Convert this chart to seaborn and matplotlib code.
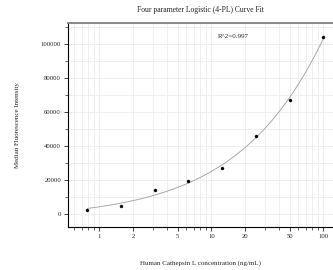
import numpy as np
import pandas as pd
import seaborn as sns
import matplotlib.pyplot as plt
from matplotlib.ticker import LogLocator, FixedLocator, NullFormatter, MultipleLocator

# standard curve points
conc = [0.78, 1.56, 3.125, 6.25, 12.5, 25, 50, 100]
mfi = [2200, 4600, 14100, 19200, 27200, 45600, 66800, 103700]
r2_text = "R^2=0.997"

x_ticks = [1, 2, 5, 10, 20, 50, 100]
x_ticklabels = ["1", "2", "5", "10", "20", "50", "100"]


def fit_4pl(x, y):
    # grid over slope / midpoint, closed-form least squares for the two asymptotes
    x = np.asarray(x, float)
    y = np.asarray(y, float)
    best = None
    for b in np.linspace(0.3, 3.0, 271):
        for logc in np.linspace(0, 4, 401):
            g = 1.0 / (1.0 + (x / 10 ** logc) ** b)
            A = np.column_stack([g, 1 - g])
            coef, *_ = np.linalg.lstsq(A, y, rcond=None)
            err = np.sum((A @ coef - y) ** 2)
            if best is None or err < best[0]:
                best = (err, coef[0], b, 10 ** logc, coef[1])
    return best[1:]


a, b, c, d = fit_4pl(conc, mfi)
xs = np.logspace(np.log10(conc[0]), np.log10(conc[-1]), 200)
curve = pd.DataFrame({"x": xs, "y": d + (a - d) / (1 + (xs / c) ** b)})
points = pd.DataFrame({"x": conc, "y": mfi})

sns.set_theme(style="white")
plt.rcParams["font.family"] = ["Liberation Serif", "DejaVu Serif"]

fig = plt.figure(figsize=(3.33, 2.70), dpi=100)
ax = fig.add_axes([0.204, 0.159, 0.796, 0.756])

sns.lineplot(data=curve, x="x", y="y", ax=ax, color="#a8a8a8", linewidth=0.7)
sns.scatterplot(data=points, x="x", y="y", ax=ax, color="black", s=5, edgecolor="black", linewidth=0.2, zorder=3)

ax.set_xscale("log")
ax.set_xlim(0.525, 122)
ax.set_ylim(-7800, 112200)

ax.xaxis.set_major_locator(FixedLocator(x_ticks))
ax.set_xticklabels(x_ticklabels)
ax.xaxis.set_minor_locator(LogLocator(base=10, subs=np.arange(1, 10)))
ax.xaxis.set_minor_formatter(NullFormatter())
ax.yaxis.set_major_locator(MultipleLocator(20000))
ax.yaxis.set_minor_locator(MultipleLocator(10000))

ax.grid(True, which="both", color="#ececec", linewidth=0.6)
ax.set_axisbelow(True)

ax.tick_params(axis="both", which="major", direction="out", length=3, width=0.6,
               labelsize=4.8, colors="#222222", pad=2)
ax.tick_params(axis="both", which="minor", direction="out", length=2, width=0.5, colors="#222222")
ax.tick_params(bottom=True, left=True, which="both")

for side in ["left", "bottom"]:
    ax.spines[side].set_color("black")
    ax.spines[side].set_linewidth(0.8)
ax.spines["top"].set_color("#888888")
ax.spines["top"].set_linewidth(1.4)
ax.spines["right"].set_visible(False)

ax.set_xlabel("Human Cathepsin L concentration (ng/mL)", fontsize=5.0, color="#222222", labelpad=15)
ax.set_ylabel("Median Fluorescence Intensity", fontsize=5.0, color="#222222", labelpad=15)
ax.set_title("Four parameter Logistic (4-PL) Curve Fit", fontsize=5.5, color="#222222", pad=8)
ax.text(11.4, 104000, r2_text, fontsize=5.0, color="#222222", va="center", ha="left")

fig.savefig("out.png", dpi=100)
